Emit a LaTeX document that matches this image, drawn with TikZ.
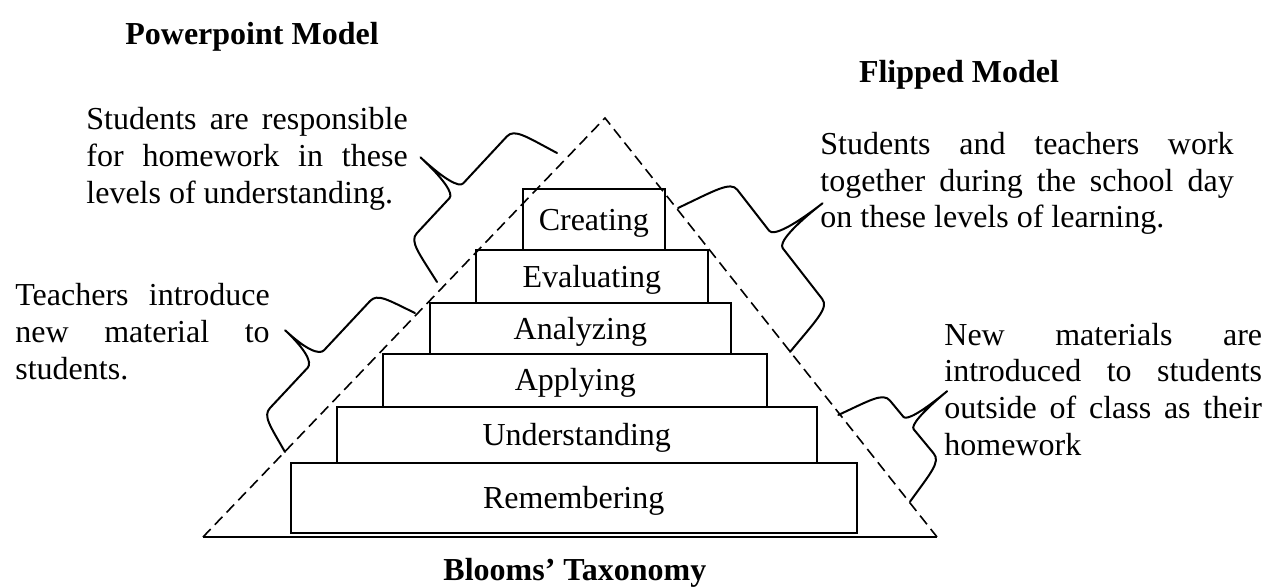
\documentclass[tikz,border=0pt]{standalone}
\usepackage{fontspec}
\setmainfont{Liberation Serif}
\begin{document}
\tolerance=10000
\hbadness=10000
\begin{tikzpicture}[x=0.5pt,y=0.5pt,
  tier/.style={draw, line width=1pt, rectangle, inner sep=0pt,
    font=\fontsize{16}{18.35}\selectfont, text height=10.6pt, text depth=0pt},
  note/.style={inner sep=0pt, anchor=base west, align=justify,
    font=\fontsize{16}{18.35}\selectfont},
  heading/.style={inner sep=0pt, anchor=base, font=\fontsize{16}{18.35}\selectfont\bfseries},
  side/.style={dash pattern=on 5.5pt off 3pt, line width=0.8pt},
  bracestyle/.style={line width=1pt, line join=round, line cap=round},
  % curly brace in its own frame: length, shoulder height, tip height, tip position, tip half-width
  pics/wbrace/.style n args={5}{code={
    \draw[bracestyle] (0,0)
      .. controls (9,{0.7*#2}) and (11,#2) .. (22,#2)
      -- ({#4-#5},#2)
      .. controls ({#4-0.4*#5},#2) and (#4,{#2+0.35*(#3-#2)}) .. (#4,#3)
      .. controls (#4,{#2+0.35*(#3-#2)}) and ({#4+0.4*#5},#2) .. ({#4+#5},#2)
      -- ({#1-22},#2)
      .. controls ({#1-11},#2) and ({#1-9},{0.7*#2}) .. (#1,0);
  }}
]
\useasboundingbox (0,0) rectangle (1267,-588);

% taxonomy triangle
\coordinate (tl) at (203,-537);
\coordinate (apex) at (605,-118);
\coordinate (tr) at (937,-537);
\draw[side] (tl) -- (apex) -- (tr);
\draw[line width=0.8pt] (tl) -- (tr);

% levels of the pyramid
\node[tier, minimum width=71.15pt, minimum height=30.5pt]  (cre) at (593.85,-219.5) {Creating};
\node[tier, minimum width=115.85pt, minimum height=26.65pt] (eva) at (591.85,-276.65) {Evaluating};
\node[tier, minimum width=150.35pt, minimum height=25.1pt]  (ana) at (580.35,-328.4) {Analyzing};
\node[tier, minimum width=192pt, minimum height=26.75pt]   (app) at (575.3,-380.25) {Applying};
\node[tier, minimum width=240pt, minimum height=27.75pt]   (und) at (576.7,-434.75) {Understanding};
\node[tier, minimum width=283pt, minimum height=35.1pt]    (rem) at (573.7,-497.6) {Remembering};

% headings
\node[heading] (ppt) at (252,-45) {Powerpoint Model};
\node[heading] (flip) at (959,-83) {Flipped Model};
\node[heading] (bloom) at (574.85,-580) {Blooms’ Taxonomy};

% explanatory notes
\node[note, text width=160.65pt] (hw) at (86,-130)
  {Students are responsible\linebreak for homework in these\linebreak levels of understanding.};
\node[note, text width=127.15pt] (intro) at (15,-305.7)
  {Teachers introduce\linebreak new material to\linebreak students.};
\node[note, text width=206.65pt] (work) at (820,-154.5)
  {Students and teachers work\linebreak together during the school day\linebreak on these levels of learning.};
\node[note, text width=158.85pt] (home) at (944,-345)
  {New materials are\linebreak introduced to students\linebreak outside of class as their\linebreak homework};

% braces along the sides of the triangle
\coordinate (b1) at (437,-282);
\coordinate (b2) at (285,-452);
\coordinate (b3) at (678,-208);
\coordinate (b4) at (838.3,-415);
\pic[rotate=47.07] at (b1) {wbrace={176.2}{48}{97}{80}{10}};
\pic[rotate=46.92] at (b2) {wbrace={190.3}{41}{83}{89}{12}};
\pic[rotate=-52.13] at (b3) {wbrace={182.4}{58}{117}{85}{11}};
\pic[rotate=-50.41] at (b4) {wbrace={112.5}{49}{99}{51}{8}};
\end{tikzpicture}
\end{document}
